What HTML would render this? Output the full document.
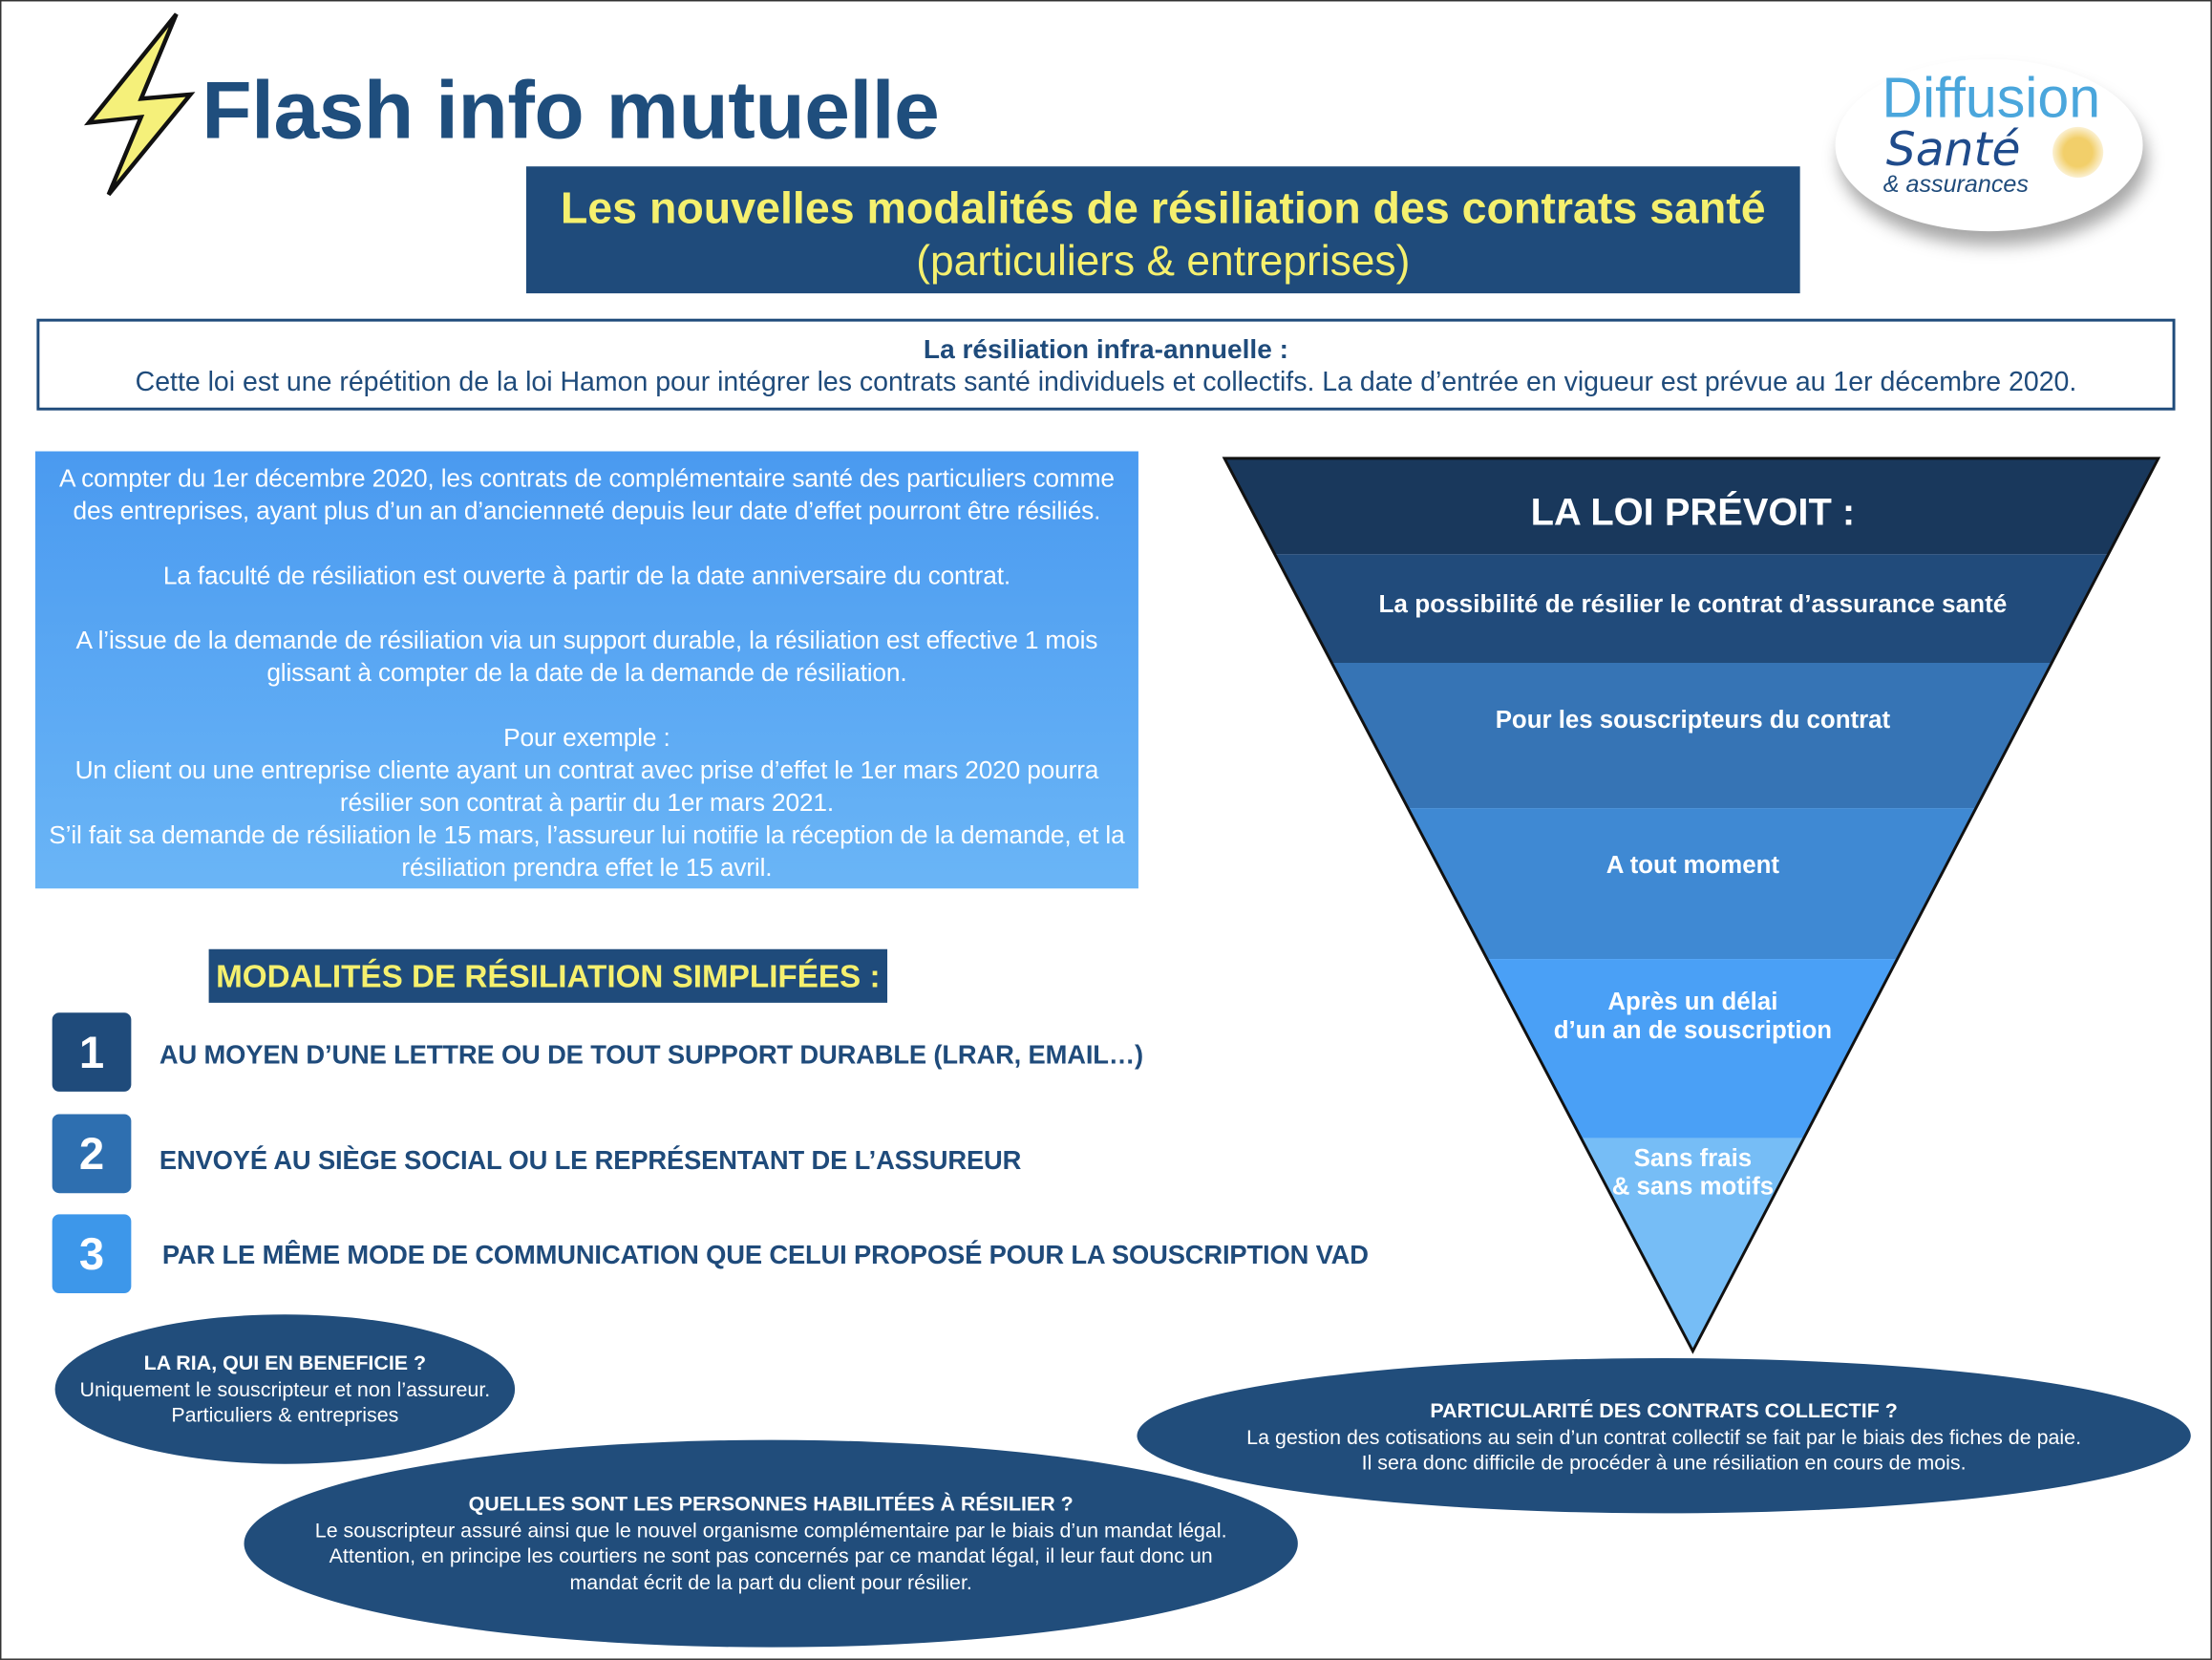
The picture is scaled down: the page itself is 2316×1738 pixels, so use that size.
<!DOCTYPE html>
<html><head><meta charset="utf-8">
<style>
html,body{margin:0;padding:0;background:#fff;overflow:hidden;}
body{width:2316px;height:1738px;}
#s{position:absolute;left:0;top:0;width:1568px;height:1177px;transform:scale(1.477,1.4766);transform-origin:0 0;font-family:"Liberation Sans",Arial,sans-serif;}
.a{position:absolute;}
.c{text-align:center;}
.num{position:absolute;left:37px;width:56px;height:56px;border-radius:5px;color:#fff;font-weight:bold;font-size:32px;line-height:56px;text-align:center;}
.mt{position:absolute;font-weight:bold;font-size:18.5px;color:#1f4b7b;letter-spacing:-0.1px;}
.el{position:absolute;background:#214d7b;border-radius:50%;color:#fff;text-align:center;font-size:14.5px;letter-spacing:0;line-height:18.5px;}
.el b{font-size:14.5px;}
</style></head><body>
<div id="s">
<div class="a" style="left:0;top:0;width:1566px;height:1175px;border:1px solid #333;"></div>
<svg class="a" style="left:55px;top:5px" width="90" height="140" viewBox="0 0 90 140">
<polygon points="70,5 8,82 45,78 22,133 80,62 45,65" fill="#f5f07a" stroke="#111" stroke-width="3" stroke-linejoin="miter"/>
</svg>
<div class="a" style="left:143px;top:45px;font-size:58px;font-weight:bold;color:#1f4e7d;letter-spacing:-0.3px;">Flash info mutuelle</div>
<div class="a" style="left:1301px;top:42px;width:218px;height:122px;border-radius:50%;background:#fff;box-shadow:3px 10px 12px rgba(0,0,0,0.35);"></div>
<div class="a" style="left:1334px;top:48px;font-size:40px;color:#4aa6dc;">Diffusion</div>
<div class="a" style="left:1337px;top:86px;font-size:33px;color:#1f4b8b;font-style:italic;font-family:'DejaVu Sans',sans-serif;">Santé</div>
<div class="a" style="left:1455px;top:90px;width:36px;height:36px;border-radius:50%;background:radial-gradient(circle,#f2cf6a 40%,rgba(242,207,106,0.2) 75%,rgba(255,255,255,0) 80%);"></div>
<div class="a" style="left:1335px;top:121px;font-size:17px;color:#1f4b7b;font-style:italic;">&amp; assurances</div>
<div class="a c" style="left:373px;top:118px;width:903px;height:90px;background:#1f4b7b;color:#f5f06e;">
<div style="font-size:31.5px;font-weight:bold;margin-top:11px;">Les nouvelles modalités de résiliation des contrats santé</div>
<div style="font-size:30px;margin-top:3px;">(particuliers &amp; entreprises)</div>
</div>
<div class="a c" style="left:26px;top:226px;width:1512px;height:61px;border:2px solid #1f4b7b;color:#1f4b7b;font-size:19.3px;">
<div style="font-weight:bold;margin-top:10px;font-size:19px;">La résiliation infra-annuelle :</div>
<div style="margin-top:1px;">Cette loi est une répétition de la loi Hamon pour intégrer les contrats santé individuels et collectifs. La date d’entrée en vigueur est prévue au 1er décembre 2020.</div>
</div>
<div class="a c" style="left:25px;top:320px;width:782px;height:310px;background:linear-gradient(#4a9af0,#6ab5f6);color:#fff;font-size:17.8px;line-height:23px;letter-spacing:-0.1px;">
<div style="margin-top:8px;">A compter du 1er décembre 2020, les contrats de complémentaire santé des particuliers comme<br>des entreprises, ayant plus d’un an d’ancienneté depuis leur date d’effet pourront être résiliés.<br><br>La faculté de résiliation est ouverte à partir de la date anniversaire du contrat.<br><br>A l’issue de la demande de résiliation via un support durable, la résiliation est effective 1 mois<br>glissant à compter de la date de la demande de résiliation.<br><br>Pour exemple :<br>Un client ou une entreprise cliente ayant un contrat avec prise d’effet le 1er mars 2020 pourra<br>résilier son contrat à partir du 1er mars 2021.<br>S’il fait sa demande de résiliation le 15 mars, l’assureur lui notifie la réception de la demande, et la<br>résiliation prendra effet le 15 avril.</div>
</div>
<div class="a c" style="left:148px;top:673px;width:481px;height:38px;background:#1f4b7b;color:#f5f06e;font-weight:bold;font-size:22.5px;line-height:40px;">MODALITÉS DE RÉSILIATION SIMPLIFÉES :</div>
<div class="num" style="top:718px;background:#1f4b7b;">1</div>
<div class="num" style="top:790px;background:#2e6fb0;">2</div>
<div class="num" style="top:861px;background:#3d97ea;">3</div>
<div class="mt" style="left:113px;top:737px;">AU MOYEN D’UNE LETTRE OU DE TOUT SUPPORT DURABLE (LRAR, EMAIL…)</div>
<div class="mt" style="left:113px;top:812px;">ENVOYÉ AU SIÈGE SOCIAL OU LE REPRÉSENTANT DE L’ASSUREUR</div>
<div class="mt" style="left:115px;top:879px;">PAR LE MÊME MODE DE COMMUNICATION QUE CELUI PROPOSÉ POUR LA SOUSCRIPTION VAD</div>
<svg class="a" style="left:0;top:0" width="1568" height="1177">
<defs><clipPath id="f"><polygon points="868,325 1530,325 1200,958"/></clipPath></defs>
<g clip-path="url(#f)">
<rect x="860" y="320" width="680" height="73" fill="#19385c"/>
<rect x="860" y="393" width="680" height="77" fill="#214b7b"/>
<rect x="860" y="470" width="680" height="103" fill="#3674b5"/>
<rect x="860" y="573" width="680" height="107" fill="#3f89d3"/>
<rect x="860" y="680" width="680" height="127" fill="#4aa0f6"/>
<rect x="860" y="807" width="680" height="160" fill="#76bdf6"/>
</g>
<polygon points="868,325 1530,325 1200,958" fill="none" stroke="#111" stroke-width="2"/>
<g fill="#fff" font-family="Liberation Sans, Arial, sans-serif" font-weight="bold" text-anchor="middle">
<text x="1200" y="372" font-size="27">LA LOI PRÉVOIT :</text>
<text x="1200" y="434" font-size="17.7">La possibilité de résilier le contrat d’assurance santé</text>
<text x="1200" y="516" font-size="17.5">Pour les souscripteurs du contrat</text>
<text x="1200" y="619" font-size="17.5">A tout moment</text>
<text x="1200" y="716" font-size="17.5">Après un délai</text>
<text x="1200" y="736" font-size="17.5">d’un an de souscription</text>
<text x="1200" y="827" font-size="17.5">Sans frais</text>
<text x="1200" y="847" font-size="17.5">&amp; sans motifs</text>
</g>
</svg>
<div class="el" style="left:39px;top:932px;width:326px;height:106px;"><div style="margin-top:26px;"><b>LA RIA, QUI EN BENEFICIE ?</b><br>Uniquement le souscripteur et non l’assureur.<br>Particuliers &amp; entreprises</div></div>
<div class="el" style="left:806px;top:963px;width:747px;height:110px;"><div style="margin-top:29px;"><b>PARTICULARITÉ DES CONTRATS COLLECTIF ?</b><br>La gestion des cotisations au sein d’un contrat collectif se fait par le biais des fiches de paie.<br>Il sera donc difficile de procéder à une résiliation en cours de mois.</div></div>
<div class="el" style="left:173px;top:1021px;width:747px;height:147px;"><div style="margin-top:37px;"><b>QUELLES SONT LES PERSONNES HABILITÉES À RÉSILIER ?</b><br>Le souscripteur assuré ainsi que le nouvel organisme complémentaire par le biais d’un mandat légal.<br>Attention, en principe les courtiers ne sont pas concernés par ce mandat légal, il leur faut donc un<br>mandat écrit de la part du client pour résilier.</div></div>
</div>
</body></html>
